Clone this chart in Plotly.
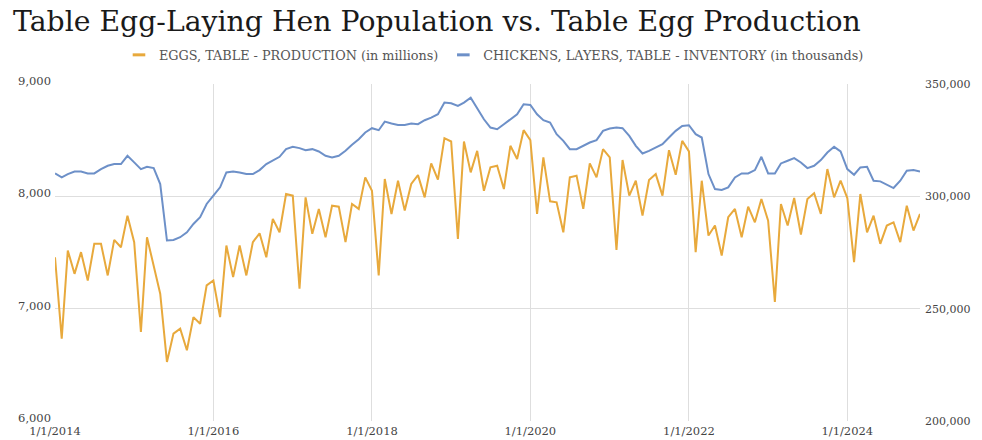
import pandas as pd
import plotly.graph_objects as go

dates = pd.date_range("2014-01-01", periods=132, freq="MS")

egg_production = [
    7458, 6733, 7518, 7310, 7503, 7251, 7577, 7577, 7296, 7612, 7547, 7828,
    7592, 6792, 7636, 7370, 7133, 6526, 6778, 6822, 6630, 6925, 6866, 7207,
    7251, 6925, 7562, 7281, 7562, 7296, 7592, 7671, 7458, 7799, 7680, 8021,
    8006, 7177, 7991, 7666, 7888, 7636, 7917, 7908, 7592, 7932, 7888, 8169,
    8050, 7296, 8154, 7843, 8139, 7873, 8110, 8189, 7991, 8293, 8148, 8518,
    8488, 7621, 8488, 8213, 8405, 8050, 8258, 8272, 8065, 8450, 8332, 8589,
    8500, 7843, 8346, 7956, 7947, 7680, 8169, 8184, 7888, 8293, 8169, 8420,
    8346, 7523, 8323, 8006, 8139, 7828, 8145, 8198, 8006, 8411, 8192, 8494,
    8400, 7503, 8139, 7651, 7740, 7473, 7814, 7888, 7636, 7908, 7769, 7976,
    7784, 7059, 7932, 7740, 7985, 7660, 7976, 8027, 7843, 8243, 7991, 8139,
    7985, 7414, 8021, 7680, 7828, 7577, 7740, 7769, 7592, 7917, 7695, 7843,
]

layer_inventory = [
    310200, 308400, 309900, 311000, 311000, 310200, 310200, 312100, 313600, 314350, 314350, 318050,
    315100, 312100, 313160, 312570, 305470, 280330, 280600, 281800, 284000, 287700, 290700, 296600,
    300300, 304000, 310650, 311100, 310650, 309900, 309900, 311680, 314350, 316120, 317600, 321000,
    322040, 321450, 320560, 321000, 319970, 318040, 317300, 318040, 320260, 322920, 325440, 328400,
    330320, 329430, 333280, 332390, 331800, 331800, 332390, 332100, 333870, 335050, 336530, 341710,
    341410, 340230, 341710, 343930, 339490, 334310, 330610, 329870, 332090, 334310, 336530, 340970,
    340670, 336530, 333870, 332830, 327660, 324700, 321000, 321000, 322480, 323960, 325000, 329140,
    330170, 330620, 330320, 326920, 322480, 319080, 320260, 321740, 323220, 326180, 329140, 331350,
    331650, 327660, 326180, 309910, 303250, 302810, 303990, 308430, 310200, 310200, 311680, 317600,
    310200, 310200, 314640, 315830, 317010, 315090, 312570, 313610, 316120, 319520, 322040, 319970,
    312130, 309610, 312870, 313160, 306950, 306660, 305180, 303700, 306950, 311390, 311680, 311090,
]

tick_dates = ["2014-01-01", "2016-01-01", "2018-01-01", "2020-01-01", "2022-01-01", "2024-01-01"]
tick_labels = ["1/1/2014", "1/1/2016", "1/1/2018", "1/1/2020", "1/1/2022", "1/1/2024"]

series_names = [
    "EGGS, TABLE - PRODUCTION (in millions)",
    "CHICKENS, LAYERS, TABLE - INVENTORY (in thousands)",
]

ORANGE = "#E8A93C"
BLUE = "#6D90C8"
FONT = "DejaVu Serif"
TICK_COLOR = "#444444"

fig = go.Figure()
fig.add_trace(go.Scatter(x=dates, y=egg_production, mode="lines",
                         line=dict(color=ORANGE, width=2), showlegend=False,
                         name=series_names[0]))
fig.add_trace(go.Scatter(x=dates, y=layer_inventory, mode="lines", yaxis="y2",
                         line=dict(color=BLUE, width=2), showlegend=False,
                         name=series_names[1]))
# legend entries (short dash symbols)
for nm, col in zip(series_names, [ORANGE, BLUE]):
    fig.add_trace(go.Scatter(x=[None], y=[None], mode="markers", name=nm,
                             marker=dict(symbol="line-ew", size=9,
                                         line=dict(color=col, width=3))))

fig.update_layout(
    width=982, height=440,
    margin=dict(l=55, r=62, t=84, b=19),
    paper_bgcolor="white", plot_bgcolor="white",
    title=dict(text="Table Egg-Laying Hen Population vs. Table Egg Production",
               x=13 / 982, xref="container", xanchor="left",
               y=1 - 21 / 440, yref="container", yanchor="middle",
               font=dict(family=FONT, size=28.3, color="#1a1a1a")),
    legend=dict(orientation="h", x=0.5075, xanchor="center", y=1.086, yanchor="middle",
                font=dict(family=FONT, size=12.8, color="#555555"),
                itemwidth=30, bgcolor="rgba(0,0,0,0)"),
    xaxis=dict(type="date", range=["2014-01-01", "2024-12-01"],
               tickvals=tick_dates, ticktext=tick_labels,
               showgrid=True, gridcolor="#dedede", gridwidth=1,
               zeroline=False, showline=False, ticks="", automargin=False,
               ticklabelstandoff=1,
               tickfont=dict(family=FONT, size=11.5, color=TICK_COLOR)),
    yaxis=dict(range=[6000, 9000], dtick=1000, tickformat=",",
               showgrid=True, gridcolor="#dedede", zeroline=False, showline=False,
               automargin=False, ticklabelstandoff=3, ticklabelshift=-3,
               tickfont=dict(family=FONT, size=11.5, color=TICK_COLOR)),
    yaxis2=dict(range=[200000, 350000], dtick=50000, tickformat=",",
                overlaying="y", side="right", showgrid=False, zeroline=False,
                showline=False, ticklabelstandoff=4, automargin=False,
                tickfont=dict(family=FONT, size=11, color=TICK_COLOR)),
)

fig.write_html("out.html")
